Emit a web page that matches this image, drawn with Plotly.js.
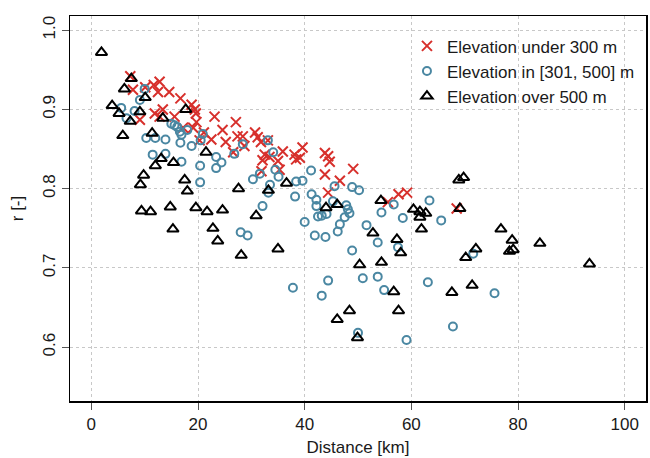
<!DOCTYPE html>
<html>
<head>
<meta charset="utf-8">
<script src="https://cdn.plot.ly/plotly-3.0.1.min.js"></script>
<style>
  html, body { margin: 0; padding: 0; background: #fff; }
  #chart { width: 650px; height: 458px; }
</style>
</head>
<body>
<div id="chart"></div>
<script>
// Correlation r against distance, grouped by station elevation
const lowDist = [7.3,7.8,10.1,11.7,12.8,12.5,14.6,16.7,18.8,19.4,13.4,11.9,12.8,15.6,9.1,19.6,19.7,19.1,17.2,20.3,21.1,23.1,27.1,24.6,22.5,25.2,27.4,28.4,28.7,30.7,31.2,31.8,33.1,26.6,32.5,33.4,32.1,35.0,35.9,38.1,38.4,39.1,39.6,35.3,31.9,43.8,44.4,44.7,43.8,46.6,44.4,49.1,55.6,57.6,59.2,68.5];
const lowR = [0.942,0.925,0.928,0.931,0.935,0.922,0.922,0.914,0.906,0.900,0.900,0.895,0.891,0.891,0.887,0.895,0.884,0.877,0.877,0.861,0.871,0.891,0.884,0.874,0.862,0.859,0.866,0.866,0.854,0.871,0.865,0.859,0.861,0.846,0.843,0.840,0.836,0.835,0.847,0.843,0.837,0.839,0.852,0.824,0.822,0.845,0.841,0.834,0.818,0.810,0.795,0.825,0.783,0.793,0.795,0.775];

const midDist = [10.0,9.1,5.6,8.1,6.6,15.0,16.1,15.6,16.6,18.0,10.3,12.0,13.9,16.7,18.8,11.5,13.9,20.9,20.5,16.9,16.9,20.4,20.4,23.4,24.4,23.4,26.8,28.4,33.1,34.1,34.5,35.1,31.6,30.3,33.5,33.2,32.1,38.4,39.6,38.2,41.2,41.3,42.2,42.2,42.5,43.2,44.1,28.0,29.3,40.0,41.9,43.9,37.8,43.2,44.4,45.6,48.9,50.2,45.3,47.8,48.1,48.4,47.5,46.6,46.2,54.4,56.7,58.4,63.4,65.6,51.6,53.7,48.9,57.5,50.9,53.7,54.9,63.1,50.0,59.1,67.8,75.6,71.6];
const midR = [0.926,0.912,0.902,0.898,0.889,0.882,0.878,0.880,0.872,0.874,0.864,0.864,0.862,0.858,0.854,0.843,0.844,0.869,0.861,0.868,0.834,0.829,0.808,0.840,0.833,0.826,0.844,0.856,0.861,0.846,0.824,0.815,0.819,0.812,0.805,0.795,0.778,0.809,0.810,0.790,0.823,0.793,0.786,0.778,0.765,0.766,0.768,0.745,0.741,0.758,0.741,0.739,0.675,0.665,0.684,0.803,0.802,0.798,0.784,0.779,0.774,0.769,0.764,0.755,0.746,0.770,0.780,0.763,0.785,0.760,0.754,0.732,0.722,0.726,0.687,0.689,0.672,0.682,0.618,0.609,0.626,0.668,0.718];

const highDist = [1.9,7.5,6.2,10.1,3.9,5.2,9.1,7.3,13.4,17.7,11.4,5.9,21.5,13.1,12.0,15.4,9.8,9.2,17.5,18.0,9.4,11.1,14.8,19.6,21.7,15.3,24.6,30.9,22.8,23.7,28.1,35.0,27.6,33.2,36.6,44.0,46.1,54.3,60.4,61.6,62.7,61.6,61.9,52.8,57.3,58.0,50.3,54.4,56.7,48.4,46.1,57.6,49.9,68.9,69.8,69.1,76.8,78.9,72.1,78.4,79.1,70.2,84.1,93.4,71.4,67.6];
const highR = [0.972,0.939,0.926,0.915,0.905,0.895,0.897,0.885,0.889,0.900,0.870,0.867,0.846,0.838,0.829,0.833,0.817,0.805,0.811,0.797,0.772,0.771,0.777,0.776,0.771,0.749,0.773,0.766,0.750,0.734,0.716,0.724,0.800,0.798,0.807,0.776,0.780,0.785,0.774,0.771,0.769,0.764,0.749,0.744,0.736,0.719,0.704,0.707,0.670,0.646,0.635,0.646,0.612,0.811,0.814,0.775,0.749,0.735,0.724,0.721,0.723,0.713,0.731,0.705,0.678,0.669];

const seriesNames = ['Elevation under 300 m', 'Elevation in [301, 500] m', 'Elevation over 500 m'];
const xTicks = [0, 20, 40, 60, 80, 100];
const yTicks = [0.6, 0.7, 0.8, 0.9, 1.0];

const FONT = 'Liberation Sans, Arial, Helvetica, sans-serif';
const TXT = '#1a1a1a';

const traces = [
  {
    x: lowDist, y: lowR, name: seriesNames[0],
    type: 'scatter', mode: 'markers',
    marker: { symbol: 'x-thin-open', size: 10, color: '#d7302c', line: { width: 2, color: '#d7302c' } }
  },
  {
    x: midDist, y: midR, name: seriesNames[1],
    type: 'scatter', mode: 'markers',
    marker: { symbol: 'circle-open', size: 8, color: '#4a87a2', line: { width: 2, color: '#4a87a2' } }
  },
  {
    x: highDist, y: highR, name: seriesNames[2],
    type: 'scatter', mode: 'markers',
    marker: { symbol: 'triangle-up-open', size: 10, color: '#000', line: { width: 2, color: '#000' } }
  }
];

const axisCommon = {
  showline: true, mirror: true, linecolor: '#000', linewidth: 1.5,
  ticks: 'outside', ticklen: 7, tickwidth: 1, tickcolor: '#555',
  showgrid: true, gridcolor: '#c8c8c8', gridwidth: 1, griddash: '3px,3px',
  zeroline: false,
  tickfont: { family: FONT, size: 17, color: TXT }
};

const layout = {
  width: 650, height: 458,
  margin: { l: 70, r: 4, t: 16, b: 57 },
  paper_bgcolor: '#fff', plot_bgcolor: '#fff',
  font: { family: FONT, size: 17, color: TXT },
  xaxis: Object.assign({}, axisCommon, {
    range: [-4, 104], tickvals: xTicks,
    title: { text: 'Distance [km]', font: { family: FONT, size: 17, color: TXT }, standoff: 8 }
  }),
  yaxis: Object.assign({}, axisCommon, {
    range: [0.532, 1.018], tickvals: yTicks, tickformat: '.1f', tickangle: -90,
    title: { text: 'r [-]', font: { family: FONT, size: 17, color: TXT }, standoff: 12 }
  }),
  showlegend: true,
  legend: {
    x: 0.585, y: 0.968, xanchor: 'left', yanchor: 'top',
    bgcolor: 'rgba(0,0,0,0)', borderwidth: 0,
    font: { family: FONT, size: 17, color: TXT },
    itemwidth: 30
  }
};

Plotly.newPlot('chart', traces, layout, { staticPlot: true, displayModeBar: false });
</script>
</body>
</html>
